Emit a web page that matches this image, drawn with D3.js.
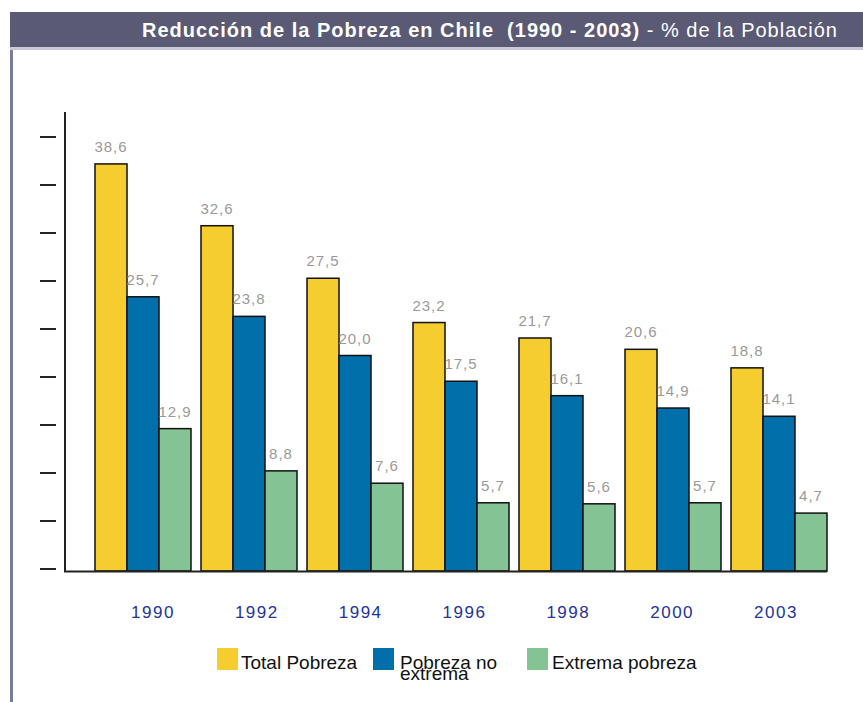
<!DOCTYPE html>
<html>
<head>
<meta charset="utf-8">
<script src="https://cdn.jsdelivr.net/npm/d3@7"></script>
<style>
  body { margin: 0; background: #fff; }
  svg { display: block; }
</style>
</head>
<body>
<div id="chart"></div>
<script>
const years = ["1990", "1992", "1994", "1996", "1998", "2000", "2003"];
const seriesNames = ["Total Pobreza", "Pobreza no extrema", "Extrema pobreza"];
const totalPobreza = [38.6, 32.6, 27.5, 23.2, 21.7, 20.6, 18.8];
const noExtrema = [25.7, 23.8, 20.0, 17.5, 16.1, 14.9, 14.1];
const extrema = [12.9, 8.8, 7.6, 5.7, 5.6, 5.7, 4.7];
const tickIndex = [0, 1, 2, 3, 4, 5, 6, 7, 8, 9];

const colors = ["#F5CD2F", "#006FAA", "#84C494"];
const width = 863, height = 702;
const baseline = 571;
const font = "Liberation Sans, Arial, sans-serif";

const svg = d3.select("#chart").append("svg")
    .attr("width", width)
    .attr("height", height);

// title bar + frame
svg.append("rect").attr("x", 10).attr("y", 12).attr("width", width - 10).attr("height", 35).attr("fill", "#5A5A74");
svg.append("rect").attr("x", 10).attr("y", 47).attr("width", width - 10).attr("height", 3).attr("fill", "#C9C9D7");
svg.append("rect").attr("x", 10).attr("y", 50).attr("width", 3).attr("height", height - 50).attr("fill", "#7C7C98");

const title = svg.append("text")
    .attr("x", 838).attr("y", 37)
    .attr("text-anchor", "end")
    .attr("fill", "#fff")
    .style("white-space", "pre")
    .style("font-family", font)
    .style("font-size", "20px");
title.append("tspan").attr("font-weight", "bold").text("Reducción de la Pobreza en Chile  (1990 - 2003)");
title.append("tspan").text(" - % de la Población");
// stretch title to the width of the original
const tw = title.node().getComputedTextLength();
const nChars = title.text().length;
title.style("letter-spacing", Math.max(0, (696 - tw) / nChars) + "px");

const x0 = d3.scaleBand().domain(years).range([95, 827]).paddingInner(10 / 106).paddingOuter(0);
const x1 = d3.scaleBand().domain(seriesNames).range([0, x0.bandwidth()]);
const y = d3.scaleLinear().domain([0, 43]).range([561.5, 561.5 - 43 * 10.3]);
const yTick = d3.scaleLinear().domain([0, 9]).range([569, 137]);
const xLabel = d3.scalePoint().domain(years).range([153, 776]);

const data = years.map((yr, i) => ({
    year: yr,
    values: [totalPobreza[i], noExtrema[i], extrema[i]]
}));

// ticks (no labels)
svg.append("g").selectAll("line")
    .data(tickIndex)
    .join("line")
    .attr("x1", 40).attr("x2", 56)
    .attr("y1", d => yTick(d))
    .attr("y2", d => yTick(d))
    .attr("stroke", "#222").attr("stroke-width", 2);

const groups = svg.append("g").selectAll("g")
    .data(data)
    .join("g")
    .attr("transform", d => `translate(${x0(d.year)},0)`);

groups.selectAll("rect")
    .data(d => d.values.map((v, k) => ({ k, v })))
    .join("rect")
    .attr("x", d => x1(seriesNames[d.k]))
    .attr("y", d => y(d.v))
    .attr("width", x1.bandwidth())
    .attr("height", d => baseline - y(d.v))
    .attr("fill", d => colors[d.k])
    .attr("stroke", "#111")
    .attr("stroke-width", 1.5);

groups.selectAll("text")
    .data(d => d.values.map((v, k) => ({ k, v })))
    .join("text")
    .attr("x", d => x1(seriesNames[d.k]) + x1.bandwidth() / 2)
    .attr("y", d => y(d.v) - 12)
    .attr("text-anchor", "middle")
    .attr("fill", "#999")
    .style("font-family", font)
    .style("font-size", "15px")
    .style("letter-spacing", "1px")
    .text(d => d.v.toFixed(1).replace(".", ","));

// axes lines
svg.append("line").attr("x1", 65).attr("x2", 65).attr("y1", 112).attr("y2", baseline + 1)
    .attr("stroke", "#222").attr("stroke-width", 2);
svg.append("line").attr("x1", 64).attr("x2", 827).attr("y1", baseline + 0.5).attr("y2", baseline + 0.5)
    .attr("stroke", "#222").attr("stroke-width", 2);

// year labels
svg.append("g").selectAll("text")
    .data(years)
    .join("text")
    .attr("x", d => xLabel(d))
    .attr("y", 618)
    .attr("text-anchor", "middle")
    .attr("fill", "#23339A")
    .style("font-family", font)
    .style("font-size", "17px")
    .style("letter-spacing", "1.5px")
    .text(d => d);

// legend
const legendX = [217, 373, 527];
const legendTextDx = [24, 27, 25];
const legend = svg.append("g").selectAll("g")
    .data(seriesNames)
    .join("g")
    .attr("transform", (d, i) => `translate(${legendX[i]},648)`);

legend.append("rect")
    .attr("width", 21).attr("height", 22)
    .attr("fill", (d, i) => colors[i]);

legend.each(function (d, i) {
    const t = d3.select(this).append("text")
        .attr("x", legendTextDx[i]).attr("y", 21)
        .attr("fill", "#111")
        .style("font-family", font)
        .style("font-size", "19px");
    if (d === "Pobreza no extrema") {
        t.append("tspan").attr("x", legendTextDx[i]).text("Pobreza no");
        t.append("tspan").attr("x", legendTextDx[i]).attr("dy", 11).text("extrema");
    } else {
        t.text(d);
    }
});
</script>
</body>
</html>
